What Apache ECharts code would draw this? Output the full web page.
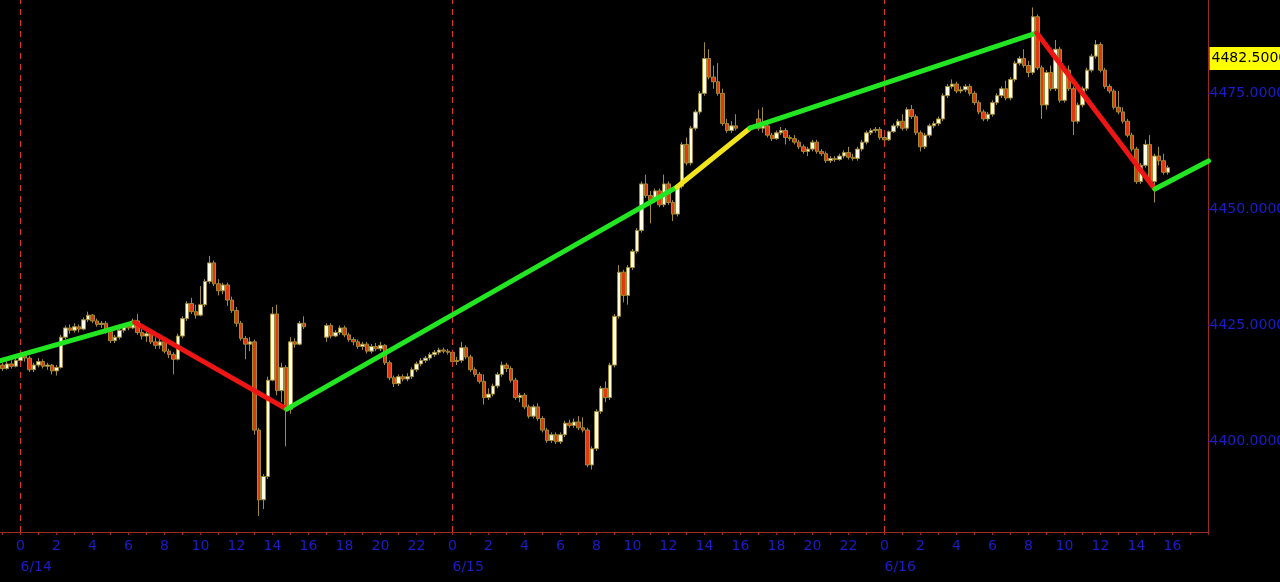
<!DOCTYPE html>
<html><head><meta charset="utf-8">
<script src="https://cdn.jsdelivr.net/npm/echarts@6/dist/echarts.min.js"></script>
<style>html,body{margin:0;padding:0;background:#000;}#c{width:1280px;height:582px;}</style>
</head><body><div id="c"></div>
<script>
// hours counted from 6/14 00:00; each row = [open, close, low, high] of a 15-minute bar
const session1Start = -1.25;
const session1 = [
[4416.0,4416.5,4415.5,4417.25],[4416.5,4415.75,4415.25,4417],[4415.75,4416.75,4415.5,4417.5],[4416.75,4416.25,4415.75,4417.5],
[4416.25,4417.5,4416,4418.25],[4417.5,4418.5,4417,4419],[4418.5,4418,4417.25,4419.25],[4418,4415.5,4415,4418.5],
[4415.5,4416.5,4415,4417],[4416.5,4417.25,4416,4418],[4417.25,4416.25,4415.75,4417.75],[4416.25,4416.5,4415.5,4417],
[4416.5,4415.25,4414.5,4416.75],[4415.25,4416,4414.25,4416.5],[4416,4422.5,4415.75,4423],[4422.5,4424.5,4422,4425],
[4424.5,4424,4423.25,4425.25],[4424,4424.75,4423.5,4425.5],[4424.75,4424.25,4423.5,4425.25],[4424.25,4426.25,4424,4426.75],
[4426.25,4427.25,4425.75,4428],[4427.25,4426,4425.5,4427.5],[4426,4425.25,4424.75,4426.5],[4425.25,4425.5,4424.5,4426],
[4425.5,4423.75,4423.25,4426],[4423.75,4421.75,4421.25,4424],[4421.75,4422.5,4421.25,4423],[4422.5,4424,4422,4424.5],
[4424,4425,4423.5,4425.5],[4425,4424.5,4424,4425.5],[4424.5,4426,4424.25,4426.5],[4426,4423.5,4423,4427.5],
[4423.5,4422.75,4422,4424.25],[4422.75,4423.25,4421.5,4424],[4423.25,4421.5,4421,4423.75],[4421.5,4420.75,4420,4422.5],
[4420.75,4421.5,4420,4422.25],[4421.5,4419.5,4419,4422],[4419.5,4418.75,4418,4420],[4418.75,4417.75,4414.5,4419.25],
[4417.75,4422.75,4417.5,4423.25],[4422.75,4426.5,4422.25,4427],[4426.5,4429.75,4426,4430.25],[4429.75,4428,4427.5,4431],
[4428,4427.25,4426.5,4429.5],[4427.25,4429.5,4427,4433.5],[4429.5,4434.5,4429,4435],[4434.5,4438.5,4434,4440],
[4438.5,4434,4433.5,4439],[4434,4432.5,4431.5,4435],[4432.5,4433.75,4431.75,4434.25],[4433.75,4430.5,4429.25,4434.25],
[4430.5,4428.25,4427.75,4431.25],[4428.25,4425.5,4424.75,4429],[4425.5,4422.25,4421.75,4426],[4422.25,4421,4417.75,4422.75],
[4421,4421.5,4419.5,4422.5],[4421.5,4402.5,4401.5,4422],[4402.5,4387.5,4384,4403],[4387.5,4392.5,4385.5,4393],
[4392.5,4413.25,4392,4414],[4413.25,4427.5,4413,4429],[4427.5,4411,4410,4429.5],[4411,4416,4408.5,4417],
[4416,4407,4399,4416.5],[4407,4421.5,4406,4422.5],[4421.5,4421,4420.25,4422.25],[4421,4425.5,4420.75,4426],
[4425.5,4424.75,4424.25,4427]
];
const session2Start = 17;
const session2 = [
[4422.5,4425,4421.5,4425.5],[4425,4422.75,4422.25,4425.5],[4422.75,4423.5,4422.5,4424],[4423.5,4424.5,4423,4425],
[4424.5,4423,4422.5,4425],[4423,4422,4421.5,4423.5],[4422,4421.5,4420.75,4422.5],[4421.5,4420.5,4420,4422],
[4420.5,4421,4419.75,4421.5],[4421,4419.5,4419,4421.5],[4419.5,4420.5,4419,4421],[4420.5,4420,4419.5,4421.25],
[4420,4420.75,4419.5,4421.5],[4420.75,4417,4416.5,4421],[4417,4413.75,4413.25,4417.5],[4413.75,4412.5,4411.75,4414.25],
[4412.5,4414,4412,4414.5],[4414,4413.5,4413,4414.5],[4413.5,4414,4413,4414.75],[4414,4415.5,4413.5,4416],
[4415.5,4416.75,4415,4417.25],[4416.75,4417.5,4416.25,4418],[4417.5,4418,4417,4418.5],[4418,4418.75,4417.5,4419.25],
[4418.75,4419.25,4418.25,4419.75],[4419.25,4419.75,4418.75,4420.25],[4419.75,4419.5,4419,4420.25],[4419.5,4419.25,4418.75,4420],
[4419.25,4417.25,4416.75,4419.75],[4417.25,4417.5,4416.5,4418.25],[4417.5,4420.25,4417,4421.5],[4420.25,4418.25,4417.75,4420.75],
[4418.25,4415.5,4415,4418.75],[4415.5,4414.5,4414,4416],[4414.5,4413,4412.5,4415],[4413,4409.5,4408,4414.5],
[4409.5,4410.25,4409,4411.5],[4410.25,4412,4409.75,4412.5],[4412,4414.5,4411.5,4415],[4414.5,4416.5,4414,4417.25],
[4416.5,4415.75,4415,4417],[4415.75,4413.25,4412.75,4416.25],[4413.25,4409.5,4409,4413.75],[4409.5,4410,4408.5,4410.5],
[4410,4407.5,4407,4410.5],[4407.5,4405.5,4405,4408],[4405.5,4407.5,4405,4408],[4407.5,4405,4404.5,4408.25],
[4405,4402.5,4402,4405.5],[4402.5,4400.25,4399.75,4403],[4400.25,4401.5,4399.75,4402],[4401.5,4400,4399.5,4402],
[4400,4401.5,4399.5,4402],[4401.5,4404,4401,4404.5],[4404,4403.5,4403,4404.75],[4403.5,4404.25,4403,4405],
[4404.25,4403,4402.5,4405.5],[4403,4402.5,4402,4405.25],[4402.5,4395,4394.5,4403],[4395,4398.5,4394,4399],
[4398.5,4406.5,4398,4407],[4406.5,4411.5,4406,4412],[4411.5,4409.5,4408.5,4413],[4409.5,4416.5,4409,4417],
[4416.5,4427,4416,4427.5],[4427,4436.5,4426.5,4438],[4436.5,4431.5,4430,4437],[4431.5,4437.5,4429.5,4438],
[4437.5,4441,4437,4441.5],[4441,4445.5,4440.5,4446],[4445.5,4455.5,4445,4456],[4455.5,4453,4452.5,4457.5],
[4453,4452,4447,4454],[4452,4454,4451.5,4454.5],[4454,4451,4450.5,4454.5],[4451,4455.5,4450.5,4457.5],
[4455.5,4451.5,4451,4456],[4451.5,4449,4447.5,4452],[4449,4455,4448.5,4455.5],[4455,4464,4454.5,4464.5],
[4464,4460,4459.5,4465.5],[4460,4467.5,4459.5,4468],[4467.5,4471,4467,4471.5],[4471,4475,4470.5,4475.5],
[4475,4482.5,4474.5,4486],[4482.5,4478.5,4478,4484.5],[4478.5,4477.5,4476,4481],[4477.5,4475,4474.5,4481.5],
[4475,4468.5,4468,4476],[4468.5,4467,4466.5,4469.5],[4467,4468,4466.5,4469],[4468,4467.5,4467,4470.5]
];
const session3Start = 41;
const session3 = [
[4469.5,4467.5,4467,4471.5],[4467.5,4468,4466.5,4472],[4468,4466,4465.5,4468.5],[4466,4465.25,4464.75,4466.5],
[4465.25,4466.5,4465,4467],[4466.5,4467,4466,4467.75],[4467,4465.5,4464,4467.5],[4465.5,4465.25,4464.75,4466],
[4465.25,4464.5,4464,4466],[4464.5,4463.5,4463,4465],[4463.5,4462.5,4462,4464],[4462.5,4463,4461.5,4463.5],
[4463,4464.5,4462.5,4465],[4464.5,4462.5,4462,4465],[4462.5,4462,4461.5,4463],[4462,4460.5,4460,4462.5],
[4460.5,4461,4460,4461.5],[4461,4460.75,4460.25,4461.5],[4460.75,4461.5,4460.5,4462],[4461.5,4462.25,4461,4462.75],
[4462.25,4461.25,4460.75,4463.5],[4461.25,4461,4460.5,4462],[4461,4463,4460.5,4463.5],[4463,4464.5,4462.5,4465],
[4464.5,4466.5,4464,4467],[4466.5,4467,4466,4467.5],[4467,4467.25,4466.5,4467.75],[4467.25,4465.5,4465,4467.75],
[4465.5,4465,4464.75,4466],[4465,4466.75,4464.75,4467],[4466.75,4468,4466.5,4468.5],[4468,4469,4467.5,4469.5],
[4469,4467.5,4467,4470.5],[4467.5,4471.5,4467,4472],[4471.5,4470,4469.5,4472.5],[4470,4466.5,4466,4470.5],
[4466.5,4463.5,4462.5,4467],[4463.5,4466,4463,4466.5],[4466,4468,4465.5,4468.5],[4468,4468.5,4467.5,4469],
[4468.5,4469.5,4468,4470],[4469.5,4474.5,4469,4475],[4474.5,4476.5,4474,4477],[4476.5,4477,4476,4478],
[4477,4475.5,4475,4477.5],[4475.5,4475.75,4475,4476.5],[4475.75,4476.5,4475.25,4477],[4476.5,4475,4474.5,4477],
[4475,4473,4472.5,4475.5],[4473,4471,4470.5,4473.5],[4471,4469.5,4469,4471.5],[4469.5,4470.5,4469,4471],
[4470.5,4473,4470,4473.5],[4473,4474.5,4472.5,4475],[4474.5,4476,4474,4476.5],[4476,4474,4473.5,4477.75],
[4474,4478,4473.5,4478.5],[4478,4481.5,4477.5,4482],[4481.5,4482.5,4481,4483],[4482.5,4481,4480.5,4484.5],
[4481,4479.5,4478.5,4482],[4479.5,4491.5,4479,4493.5],[4491.5,4480.5,4480,4492],[4480.5,4472.5,4469.5,4481],
[4472.5,4479.5,4471.5,4480],[4479.5,4476,4475.5,4481],[4476,4484.5,4475.5,4486.5],[4484.5,4473.5,4473,4485],
[4473.5,4480,4473,4480.5],[4480,4476,4475.5,4481],[4476,4469,4466,4476.5],[4469,4472.5,4468.5,4473],
[4472.5,4476,4472,4476.5],[4476,4480,4475.5,4480.5],[4480,4483,4479.5,4483.5],[4483,4485.5,4482.5,4486.5],
[4485.5,4480,4479.5,4486],[4480,4476.5,4476,4480.5],[4476.5,4475.5,4475,4477],[4475.5,4472,4471.5,4476],
[4472,4471,4470.5,4475.5],[4471,4469,4468.5,4472],[4469,4466,4465.5,4469.5],[4466,4463,4462.5,4466.5],
[4463,4456,4455.5,4463.5],[4456,4459.5,4455.5,4460],[4459.5,4464,4459,4465],[4464,4456,4455.5,4466],
[4456,4461.5,4451.5,4462],[4461.5,4460.5,4459.5,4463.5],[4460.5,4458,4457.5,4462],[4458,4459,4457.5,4459.5]
];
// zigzag pivots (hours, price) and segment colours
const zigTimes  = [-1.15, 6.35, 14.79, 36.46, 40.52, 56.46, 63.02, 66.0];
const zigValues = [4417.4, 4425.7, 4407.0, 4454.8, 4467.5, 4488.0, 4454.4, 4460.45];
const zigColors = ['#22e622','#ee1515','#22e622','#f2e41c','#22e622','#ee1515','#22e622'];
const dayStarts = [0, 24, 48];
const dayLabels = ['6/14', '6/15', '6/16'];
const lastHourLabel = 16;
const markedPrice = 4482.5;

const barHours = 0.25;
function build(start, rows) { return rows.map((r, i) => [start + i * barHours, r[0], r[1], r[2], r[3]]); }
const candles = [].concat(build(session1Start, session1), build(session2Start, session2), build(session3Start, session3));

const BLUE = '#1c1cc8';
const AXIS_RED = '#9a2a26';
const DASH_RED = '#e0342c';
const FONT = 'DejaVu Sans';

const markData = dayStarts.map(d => ({
  xAxis: d,
  lineStyle: { color: DASH_RED, type: [6, 5], width: 1, opacity: 1 }
}));
markData.push({
  yAxis: markedPrice,
  lineStyle: { color: 'rgba(0,0,0,0)', width: 0 },
  label: { show: true, position: 'end', distance: 1, opacity: 1, formatter: () => markedPrice.toFixed(4),
    backgroundColor: '#ffff00', color: '#000000', fontFamily: FONT, fontSize: 14, padding: [5, 3, 4, 2] }
});

const series = [{
  type: 'candlestick',
  data: candles,
  encode: { x: 0, y: [1, 2, 3, 4] },
  barWidth: 4,
  itemStyle: { color: '#fffbe4', color0: '#e0380f', borderColor: '#a08c34', borderColor0: '#a08c34', borderWidth: 1 },
  z: 2
}];
for (let i = 0; i < zigColors.length; i++) {
  series.push({
    type: 'line', symbol: 'none', silent: true, z: 5,
    data: [[zigTimes[i], zigValues[i]], [zigTimes[i + 1], zigValues[i + 1]]],
    lineStyle: { color: zigColors[i], width: 5, cap: 'round' }
  });
}
series.push({
  type: 'line', symbol: 'none', silent: true, z: 1,
  color: DASH_RED,
  data: [[dayStarts[0], markedPrice]],
  lineStyle: { opacity: 0 },
  itemStyle: { color: DASH_RED, opacity: 0 },
  markLine: {
    silent: true, symbol: 'none', animation: false,
    label: { show: false },
    lineStyle: { color: DASH_RED, type: [6, 5], width: 1 },
    data: markData
  }
});

const chart = echarts.init(document.getElementById('c'), null, { renderer: 'canvas' });
chart.setOption({
  backgroundColor: '#000000',
  animation: false,
  grid: { left: -15.5, right: 71.5, top: 0, bottom: 50, containLabel: false, outerBoundsMode: 'none' },
  xAxis: [{
    type: 'value', min: -2, max: 66, interval: 1,
    axisLine: { show: true, onZero: false, lineStyle: { color: AXIS_RED, width: 1 } },
    axisTick: { show: true, length: 3, lineStyle: { color: AXIS_RED } },
    splitLine: { show: false },
    axisLabel: { color: BLUE, fontFamily: FONT, fontSize: 14, margin: 7,
      formatter: v => { if (v < 0 || v > 48 + lastHourLabel) return ''; const h = ((v % 24) + 24) % 24; return h % 2 === 0 ? String(h) : ''; } }
  }, {
    type: 'value', min: -2, max: 66, interval: 1, position: 'bottom',
    axisLine: { show: false, onZero: false }, axisTick: { show: false }, splitLine: { show: false },
    axisLabel: { color: BLUE, fontFamily: FONT, fontSize: 14, margin: 28, align: 'left',
      formatter: v => { const k = dayStarts.indexOf(v); return k >= 0 ? dayLabels[k] : ''; } }
  }],
  yAxis: {
    type: 'value', position: 'right', min: 4380.56, max: 4495.1, minInterval: 25, maxInterval: 25, splitNumber: 5,
    axisLine: { show: true, onZero: false, lineStyle: { color: AXIS_RED, width: 1 } },
    axisTick: { show: true, length: 3, lineStyle: { color: BLUE } },
    splitLine: { show: false },
    axisLabel: { color: BLUE, fontFamily: FONT, fontSize: 14, margin: 1, showMinLabel: false, showMaxLabel: false,
      formatter: v => v.toFixed(4) }
  },
  series: series
});
</script>
</body></html>
